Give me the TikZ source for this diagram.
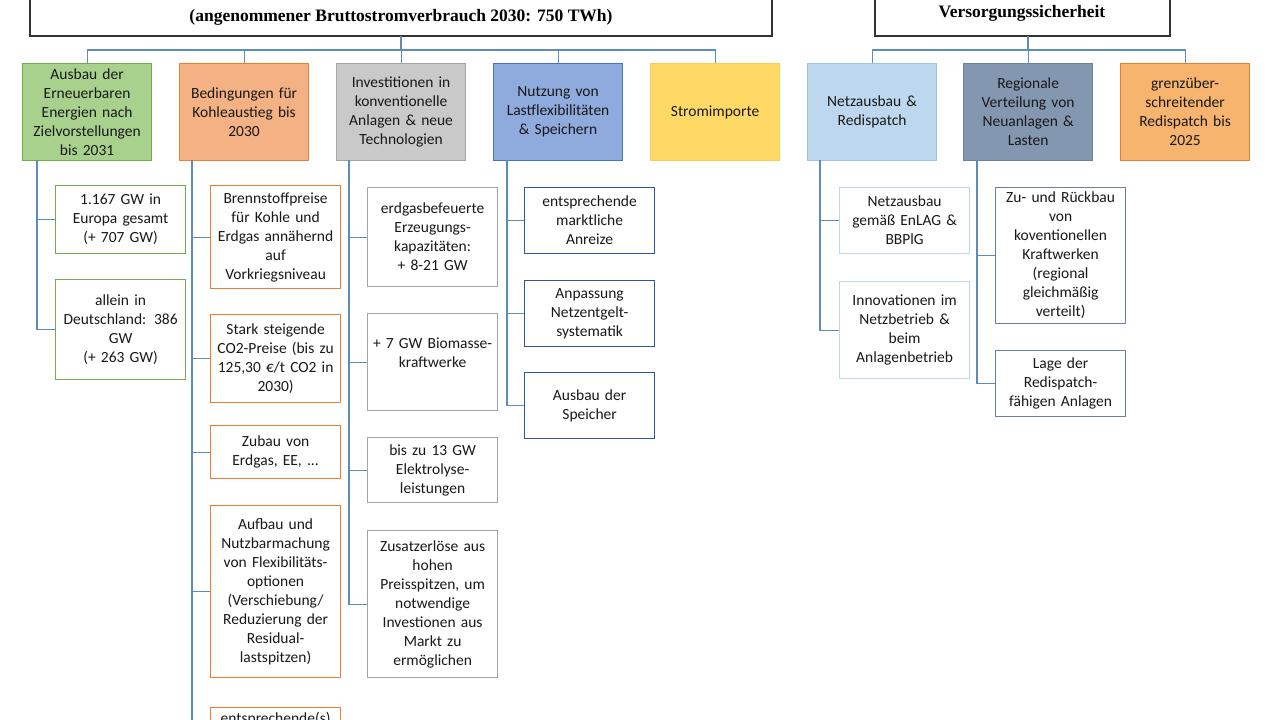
\documentclass[tikz,border=0pt]{standalone}
\usepackage{fontspec}
\setmainfont{Carlito}
\newfontfamily\titlefont{Liberation Serif}
\definecolor{lineblue}{HTML}{5B8DB8}
\definecolor{gF}{HTML}{A9D18E}\definecolor{gD}{HTML}{70AD47}
\definecolor{oF}{HTML}{F4B183}\definecolor{oD}{HTML}{ED7D31}
\definecolor{yF}{HTML}{C9C9C9}\definecolor{yD}{HTML}{A5A5A5}
\definecolor{bF}{HTML}{8FAADC}\definecolor{bD}{HTML}{4472C4}\definecolor{bDD}{HTML}{2F5597}
\definecolor{uF}{HTML}{FFD966}\definecolor{uD}{HTML}{F7CB5A}
\definecolor{lF}{HTML}{BDD7EE}\definecolor{lD}{HTML}{9DC3E6}
\definecolor{sF}{HTML}{8497B0}\definecolor{sD}{HTML}{6D7F99}
\definecolor{rF}{HTML}{F7B46E}
\begin{document}
\begin{tikzpicture}[x=1pt,y=-1pt,
  box/.style={draw, line width=1.2pt, anchor=north west, align=center, inner sep=2pt,
    font=\fontsize{15.5}{19}\selectfont, text=black!90},
  cat/.style={box, minimum width=129pt, minimum height=97pt, text width=125pt},
  ch/.style={box, fill=white, minimum width=130pt, text width=126pt},
  conn/.style={draw=lineblue, line width=1.2pt},
  top/.style={draw=black!80, line width=1.5pt, fill=white},
]
\useasboundingbox (0,0) rectangle (1280,720);
% top boxes
\draw[top] (30,-10) rectangle (772,36);
\node[font=\titlefont\bfseries\fontsize{17.5}{19}\selectfont] (t1) at (401,17) {(angenommener Bruttostromverbrauch 2030: 750 TWh)};
\coordinate (T1) at (401,36);
\draw[top] (875,-10) rectangle (1170,36);
\node[font=\titlefont\bfseries\fontsize{17.5}{19}\selectfont] (t2) at (1022,13) {Versorgungssicherheit};
\coordinate (T2) at (1028,36);
% categories
\node[cat, fill=gF, draw=gD] (c1) at (22,63) {Ausbau der\\Erneuerbaren\\Energien nach\\Zielvorstellungen\\bis 2031};
\node[cat, fill=oF, draw=oD] (c2) at (179,63) {Bedingungen für\\Kohleaustieg bis\\2030};
\node[cat, fill=yF, draw=yD] (c3) at (336,63) {Investitionen in\\konventionelle\\Anlagen \& neue\\Technologien};
\node[cat, fill=bF, draw=bD] (c4) at (493,63) {Nutzung von\\Lastflexibilitäten\\\& Speichern};
\node[cat, fill=uF, draw=uD] (c5) at (650,63) {Stromimporte};
\node[cat, fill=lF, draw=lD] (c6) at (807,63) {Netzausbau \&\\Redispatch};
\node[cat, fill=sF, draw=sD] (c7) at (963,63) {Regionale\\Verteilung von\\Neuanlagen \&\\Lasten};
\node[cat, fill=rF, draw=oD] (c8) at (1120,63) {grenzüber-\\schreitender\\Redispatch bis\\2025};
\coordinate (h1) at (401,50); \coordinate (h2) at (1028,50);
\draw[conn] (T1) -- (h1);
\foreach \c in {c1,c2,c3,c4,c5} \draw[conn] (h1) -| (\c.north);
\draw[conn] (T2) -- (h2);
\foreach \c in {c6,c7,c8} \draw[conn] (h2) -| (\c.north);
% column 1
\begin{scope}[every node/.append style={draw=gD}]
\node[ch, minimum height=68pt] (a1) at (55,185) {1.167 GW in\\Europa gesamt\\(+ 707 GW)};
\node[ch, minimum height=100pt] (a2) at (55,279) {allein in\\Deutschland: 386\\GW\\(+ 263 GW)};
\end{scope}
\coordinate (v1) at (37,160);
\draw[conn] (v1) |- (a2.west); \draw[conn] (a1.west) -- ++(-18,0);
% column 2
\begin{scope}[every node/.append style={draw=oD}]
\node[ch, minimum height=103pt] (b1) at (210,185) {Brennstoffpreise\\für Kohle und\\Erdgas annähernd\\auf\\Vorkriegsniveau};
\node[ch, minimum height=88pt] (b2) at (210,314) {Stark steigende\\CO2-Preise (bis zu\\125,30 €/t CO2 in\\2030)};
\node[ch, minimum height=53pt] (b3) at (210,425) {Zubau von\\Erdgas, EE, ...};
\node[ch, minimum height=172pt] (b4) at (210,505) {Aufbau und\\Nutzbarmachung\\von Flexibilitäts-\\optionen\\(Verschiebung/\\Reduzierung der\\Residual-\\lastspitzen)};
\node[ch, minimum height=60pt, text depth=40pt] (b5) at (210,707) {entsprechende(s)};
\end{scope}
\coordinate (v2) at (192,160); \coordinate (v2e) at (192,730);
\draw[conn] (v2) -- (v2e);
\foreach \b in {b1,b2,b3,b4} \draw[conn] (\b.west) -- ++(-18,0);
% column 3
\begin{scope}[every node/.append style={draw=yD}]
\node[ch, minimum height=99pt] (d1) at (367,187) {erdgasbefeuerte\\Erzeugungs-\\kapazitäten:\\+ 8-21 GW};
\node[ch, minimum height=97pt] (d2) at (367,313) {+ 7 GW Biomasse-\\kraftwerke\\ \mbox{}};
\node[ch, minimum height=65pt] (d3) at (367,437) {bis zu 13 GW\\Elektrolyse-\\leistungen};
\node[ch, minimum height=147pt] (d4) at (367,530) {Zusatzerlöse aus\\hohen\\Preisspitzen, um\\notwendige\\Investionen aus\\Markt zu\\ermöglichen};
\end{scope}
\coordinate (v3) at (349,160);
\draw[conn] (v3) |- (d4.west);
\foreach \b in {d1,d2,d3} \draw[conn] (\b.west) -- ++(-18,0);
% column 4
\begin{scope}[every node/.append style={draw=bDD}]
\node[ch, minimum height=66pt] (e1) at (524,187) {entsprechende\\marktliche\\Anreize};
\node[ch, minimum height=66pt] (e2) at (524,280) {Anpassung\\Netzentgelt-\\systematik};
\node[ch, minimum height=66pt] (e3) at (524,372) {Ausbau der\\Speicher};
\end{scope}
\coordinate (v4) at (507,160);
\draw[conn] (v4) |- (e3.west);
\foreach \b in {e1,e2} \draw[conn] (\b.west) -- ++(-17,0);
% column 6
\begin{scope}[every node/.append style={draw=lF}]
\node[ch, minimum height=66pt] (f1) at (839,187) {Netzausbau\\gemäß EnLAG \&\\BBPlG};
\node[ch, minimum height=97pt] (f2) at (839,281) {Innovationen im\\Netzbetrieb \&\\beim\\Anlagenbetrieb};
\end{scope}
\coordinate (v6) at (820,160);
\draw[conn] (v6) |- (f2.west); \draw[conn] (f1.west) -- ++(-19,0);
% column 7
\begin{scope}[every node/.append style={draw=sD}]
\node[ch, minimum height=136pt] (g1) at (995,187) {Zu- und Rückbau\\von\\koventionellen\\Kraftwerken\\(regional\\gleichmäßig\\verteilt)};
\node[ch, minimum height=66pt] (g2) at (995,350) {Lage der\\Redispatch-\\fähigen Anlagen};
\end{scope}
\coordinate (v7) at (977,160);
\draw[conn] (v7) |- (g2.west); \draw[conn] (g1.west) -- ++(-18,0);
\end{tikzpicture}
\end{document}
